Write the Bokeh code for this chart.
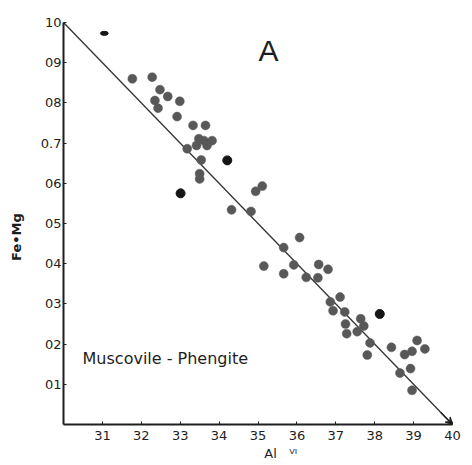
import math
from bokeh.plotting import figure
from bokeh.models import FixedTicker, Label, Arrow, VeeHead, Range1d
from bokeh.embed import file_html
from bokeh.resources import INLINE

# Al(VI) vs Fe+Mg, Muscovite-Phengite
gray_x = [3.177, 3.228, 3.248, 3.268, 3.299, 3.235, 3.243, 3.292, 3.333, 3.365,
          3.348, 3.361, 3.382, 3.369, 3.342, 3.318, 3.354, 3.350, 3.350, 3.494,
          3.511, 3.432, 3.482, 3.566, 3.607, 3.515, 3.566, 3.592, 3.656, 3.680,
          3.624, 3.654, 3.686, 3.711, 3.693, 3.723, 3.764, 3.725, 3.772, 3.755,
          3.728, 3.788, 3.781, 3.843, 3.877, 3.896, 3.909, 3.929, 3.865, 3.892,
          3.896]
gray_y = [0.860, 0.864, 0.833, 0.816, 0.804, 0.806, 0.787, 0.766, 0.744, 0.744,
          0.711, 0.706, 0.706, 0.694, 0.694, 0.686, 0.658, 0.624, 0.611, 0.580,
          0.593, 0.534, 0.530, 0.440, 0.465, 0.394, 0.375, 0.397, 0.398, 0.386,
          0.366, 0.365, 0.305, 0.317, 0.283, 0.280, 0.263, 0.250, 0.245, 0.231,
          0.226, 0.203, 0.173, 0.192, 0.174, 0.182, 0.209, 0.188, 0.128, 0.139,
          0.085]
black_x = [3.301, 3.421, 3.813]
black_y = [0.575, 0.657, 0.275]
small_x = [3.105]
small_y = [0.973]

line_x = [3.0, 4.0]
line_y = [1.0, 0.0]

x_ticks = [3.1, 3.2, 3.3, 3.4, 3.5, 3.6, 3.7, 3.8, 3.9, 4.0]
x_labels = ["31", "32", "33", "34", "35", "36", "37", "38", "39", "40"]
y_ticks = [0.1, 0.2, 0.3, 0.4, 0.5, 0.6, 0.7, 0.8, 0.9, 1.0]
y_labels = ["01", "02", "03", "04", "05", "06", "0.7", "08", "09", "10"]

FONT = "DejaVu Sans"
INK = "#1e1e1e"
NB = "\u00a0"

p = figure(width=472, height=465, x_range=Range1d(3.0, 4.0), y_range=Range1d(0.0, 1.0),
           output_backend="svg", toolbar_location=None,
           min_border_left=63, min_border_right=20, min_border_top=22, min_border_bottom=41)
p.outline_line_color = None
p.xgrid.visible = False
p.ygrid.visible = False
p.background_fill_color = "white"

for ax, ticks, labels in ((p.xaxis[0], x_ticks, x_labels), (p.yaxis[0], y_ticks, y_labels)):
    ax.ticker = FixedTicker(ticks=ticks)
    ax.major_label_overrides = {t: l for t, l in zip(ticks, labels)}
    ax.axis_line_width = 2
    ax.axis_line_color = INK
    ax.major_tick_in = 3
    ax.major_tick_out = 0
    ax.major_tick_line_color = INK
    ax.minor_tick_line_color = None
    ax.major_label_text_font = FONT
    ax.major_label_text_font_size = "13px"
    ax.major_label_text_color = INK
    ax.axis_label_text_font = FONT
    ax.axis_label_text_color = INK
    ax.axis_label_text_font_style = "normal"
p.xaxis[0].major_label_standoff = 6
p.yaxis[0].major_label_standoff = 2

p.yaxis[0].axis_label = "Fe•Mg" + NB * 6
p.yaxis[0].axis_label_text_font_size = "13px"
p.yaxis[0].axis_label_text_font_style = "bold"
p.yaxis[0].axis_label_standoff = 14

p.xaxis[0].axis_label = NB * 11 + "Al" + NB * 3 + "ⱽᴵ"
p.xaxis[0].axis_label_text_font_size = "13px"
p.xaxis[0].axis_label_standoff = 3

p.line(line_x, line_y, line_color="#333333", line_width=1.3)
p.add_layout(Arrow(end=VeeHead(size=7, line_color="#222222", line_width=1.3),
                   x_start=3.97, y_start=0.03, x_end=4.0, y_end=0.0,
                   line_color="#222222", line_width=1.3))

p.scatter(gray_x, gray_y, size=9, fill_color="#585858", line_color="#585858", line_width=0.5)
p.scatter(black_x, black_y, size=9, fill_color="#151515", line_color="#151515")
p.ellipse(small_x, small_y, width=0.02, height=0.01, fill_color="#151515", line_color="#151515")

p.add_layout(Label(x=3.527, y=0.930, text="A", text_align="center", text_baseline="middle",
                   text_font="Liberation Sans", text_font_size="30px", text_color=INK))
p.add_layout(Label(x=3.049, y=0.164, text="Muscovile - Phengite", text_align="left",
                   text_baseline="middle", text_font=FONT, text_font_size="16px", text_color=INK))

open("out.html", "w").write(file_html(p, INLINE))
